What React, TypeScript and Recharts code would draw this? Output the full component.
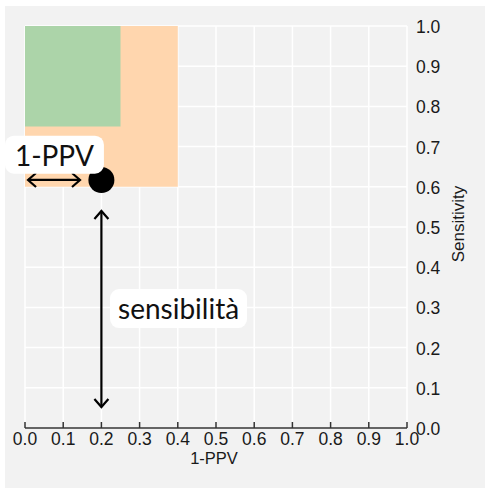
import React from 'react';
import {
  ComposedChart,
  Scatter,
  XAxis,
  YAxis,
  CartesianGrid,
  ReferenceArea,
  ReferenceLine,
  ReferenceDot,
  Label,
} from 'recharts';

// axis ticks
const xTicks = [0, 0.1, 0.2, 0.3, 0.4, 0.5, 0.6, 0.7, 0.8, 0.9, 1.0];
const yTicks = [0, 0.1, 0.2, 0.3, 0.4, 0.5, 0.6, 0.7, 0.8, 0.9, 1.0];

// the single operating point
const points = [{ ppv: 0.2, sens: 0.617 }];

// shaded regions
const orangeRegion = { x1: 0, x2: 0.4, y1: 0.6, y2: 1.0 };
const greenRegion = { x1: 0, x2: 0.25, y1: 0.75, y2: 1.0 };

// double arrows
const ppvArrow = [{ x: 0.008, y: 0.617 }, { x: 0.144, y: 0.617 }];
const sensArrow = [{ x: 0.2, y: 0.54 }, { x: 0.2, y: 0.052 }];

// annotation boxes
const ppvNote = { x: 0.077, y: 0.68, text: '1-PPV', w: 99, h: 38, dy: 11 };
const sensNote = { x: 0.402, y: 0.297, text: 'sensibilità', w: 137, h: 39, dy: 10 };

const TICK_FONT = '"Liberation Sans", Arial, sans-serif';
const NOTE_FONT = 'Lato, "Noto Sans", sans-serif';

const XTick = (props: any) => {
  const { x, y, payload } = props;
  return (
    <g>
      <line x1={x} x2={x} y1={y - 6} y2={y} stroke="#333" strokeWidth={1.5} />
      <text x={x} y={y + 17} textAnchor="middle" fontSize={17.5} fontFamily={TICK_FONT} fill="#1a1a1a">
        {payload.value.toFixed(1)}
      </text>
    </g>
  );
};

const YTick = (props: any) => {
  const { x, y, payload } = props;
  return (
    <text x={x} y={y} dy={7} textAnchor="start" fontSize={17.5} fontFamily={TICK_FONT} fill="#1a1a1a">
      {payload.value.toFixed(1)}
    </text>
  );
};

const DoubleArrow = (props: any) => {
  const { x1, y1, x2, y2 } = props;
  const dx = x2 - x1;
  const dy = y2 - y1;
  const len = Math.sqrt(dx * dx + dy * dy) || 1;
  const ux = dx / len;
  const uy = dy / len;
  const hl = 8;
  const hw = 7;
  const head = (px: number, py: number, dir: number) => {
    const bx = px - dir * ux * hl;
    const by = py - dir * uy * hl;
    return `M${bx - uy * hw},${by + ux * hw} L${px},${py} L${bx + uy * hw},${by - ux * hw}`;
  };
  return (
    <g>
      <line x1={x1} y1={y1} x2={x2} y2={y2} stroke="#000" strokeWidth={2.2} />
      <path d={head(x2, y2, 1)} fill="none" stroke="#000" strokeWidth={2.2} />
      <path d={head(x1, y1, -1)} fill="none" stroke="#000" strokeWidth={2.2} />
    </g>
  );
};

const noteShape = (note: { text: string; w: number; h: number; dy: number }) => (props: any) => {
  const { cx, cy } = props;
  return (
    <g>
      <rect x={cx - note.w / 2} y={cy - note.h / 2} width={note.w} height={note.h} rx={9} ry={9} fill="#fff" />
      <text
        x={cx}
        y={cy}
        dy={note.dy}
        textAnchor="middle"
        fontSize={28}
        fontFamily={NOTE_FONT}
        fill="#111"
      >
        {note.text}
      </text>
    </g>
  );
};

const XTitle = (props: any) => {
  const { x, y, width, height } = props.viewBox;
  return (
    <text x={x + width / 2 - 2} y={y + height - 10} textAnchor="middle" fontSize={16.5} fontFamily={TICK_FONT} fill="#1a1a1a">
      1-PPV
    </text>
  );
};

const YTitle = (props: any) => {
  const { x, y, width, height } = props.viewBox;
  const cx = x + width + 1;
  const cy = y + height / 2 - 3;
  return (
    <text
      x={cx}
      y={cy}
      dy={6}
      transform={`rotate(-90 ${cx} ${cy})`}
      textAnchor="middle"
      fontSize={17}
      fontFamily={TICK_FONT}
      fill="#1a1a1a"
    >
      Sensitivity
    </text>
  );
};

const App: React.FC = () => {
  return (
    <div style={{ position: 'absolute', left: 0, top: 0, width: 485, height: 488, background: '#fff' }}>
      <div style={{ position: 'absolute', left: 5, top: 6, width: 480, height: 482, background: '#f2f2f2' }} />
      <div style={{ position: 'absolute', left: 0, top: 0 }}>
        <ComposedChart width={485} height={488} margin={{ top: 26, right: 28, bottom: 14, left: 25 }}>
          <CartesianGrid stroke="#ffffff" strokeWidth={1.5} />
          <XAxis
            type="number"
            dataKey="ppv"
            domain={[0, 1]}
            ticks={xTicks}
            height={46}
            tickSize={0}
            tickMargin={0}
            tickLine={false}
            axisLine={{ stroke: '#333', strokeWidth: 1.5 }}
            tick={<XTick />}
            interval={0}
          >
            <Label content={<XTitle />} />
          </XAxis>
          <YAxis
            type="number"
            dataKey="sens"
            orientation="right"
            domain={[0, 1]}
            ticks={yTicks}
            width={50}
            tickSize={0}
            tickMargin={9}
            tickLine={false}
            axisLine={false}
            tick={<YTick />}
            interval={0}
          >
            <Label content={<YTitle />} />
          </YAxis>
          <ReferenceArea
            x1={orangeRegion.x1}
            x2={orangeRegion.x2}
            y1={orangeRegion.y1}
            y2={orangeRegion.y2}
            fill="#ffd6ae"
            fillOpacity={1}
            stroke="none"
          />
          <ReferenceArea
            x1={greenRegion.x1}
            x2={greenRegion.x2}
            y1={greenRegion.y1}
            y2={greenRegion.y2}
            fill="#acd4a9"
            fillOpacity={1}
            stroke="none"
          />
          <Scatter
            data={points}
            dataKey="sens"
            isAnimationActive={false}
            shape={(p: any) => <circle cx={p.cx} cy={p.cy} r={13} fill="#000" />}
          />
          <ReferenceLine segment={ppvArrow} shape={<DoubleArrow />} ifOverflow="visible" />
          <ReferenceLine segment={sensArrow} shape={<DoubleArrow />} ifOverflow="visible" />
          <ReferenceDot x={ppvNote.x} y={ppvNote.y} ifOverflow="visible" shape={noteShape(ppvNote)} />
          <ReferenceDot x={sensNote.x} y={sensNote.y} ifOverflow="visible" shape={noteShape(sensNote)} />
        </ComposedChart>
      </div>
    </div>
  );
};

export default App;
